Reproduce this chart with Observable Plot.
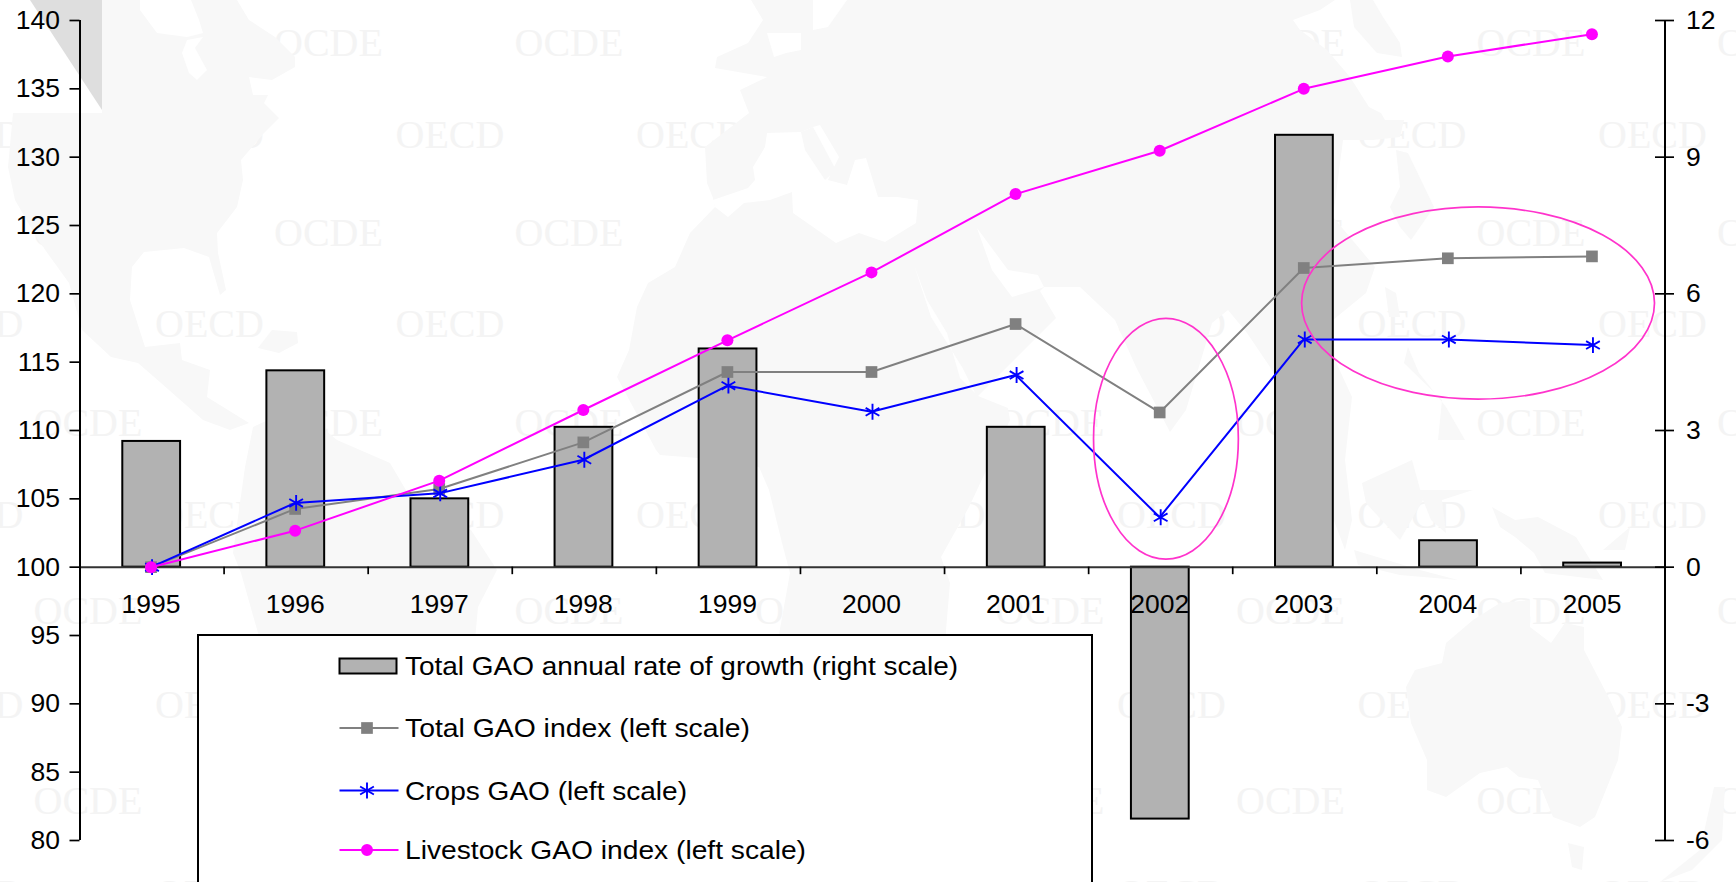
<!DOCTYPE html>
<html>
<head>
<meta charset="utf-8">
<script src="https://cdn.jsdelivr.net/npm/d3@7"></script>
<script src="https://cdn.jsdelivr.net/npm/@observablehq/plot@0.6"></script>
<style>
html,body{margin:0;padding:0;background:#fff;overflow:hidden}
#page{position:relative;width:1736px;height:882px;overflow:hidden;font-family:"Liberation Sans",Arial,sans-serif}
#bg,#chart,#legend{position:absolute}
#bg{left:0;top:0}
#chart{left:0;top:0}
#chart svg{display:block}
#legend{left:197px;top:634px;background:#fff}
</style>
</head>
<body>
<div id="page">
<svg id="bg" width="1736" height="882" viewBox="0 0 1736 882">
  <g id="watermarks" fill="#f4f4f4" font-family="Liberation Serif, serif" font-size="40" text-anchor="middle" dominant-baseline="central"></g>
  <g fill="#f8f8f8">
    <polygon points="102,0 140,0 140,10 157,33 187,37 203,33 199,20 191,0 237,0 249,20 275,37 295,57 295,67 272,80 249,77 253,95 268,95 264,103 279,118 264,133 241,160 243,180 237,207 217,233 218,253 226,290 220,295 209,257 184,248 144,252 132,267 130,300 145,347 180,343 182,360 210,370 207,397 249,423 230,430 203,420 161,383 138,363 111,357 82,330 69,283 38,240 15,200 8,167 13,113 102,113"/>
    <polygon points="258,348 272,330 297,332 298,343 279,353"/>
    <polygon points="253,427 268,420 325,430 337,440 390,463 410,497 471,530 497,570 478,607 475,640 260,640 241,573 233,553 245,467"/>
    <polygon points="751,0 763,20 748,43 717,57 715,68 738,72 767,77 740,90 749,113 705,147 707,183 713,198 715,207 690,233 675,267 648,283 637,307 629,350 617,377 656,450 660,455 698,458 759,467 769,490 782,543 790,573 778,640 946,640 946,630 950,583 941,557 969,507 1010,420 1008,408 978,396 1056,318 1040,291 1044,287 1080,287 1115,320 1136,367 1170,432 1186,410 1212,323 1228,310 1247,333 1270,367 1300,420 1330,510 1345,550 1352,520 1345,460 1352,397 1335,360 1333,320 1366,293 1375,267 1333,217 1343,140 1373,140 1400,137 1404,120 1385,120 1381,113 1369,107 1350,77 1327,50 1300,30 1293,20 1320,10 1335,0"/>
    <polygon points="1350,0 1373,0 1383,17 1400,43 1402,57 1377,53 1354,27"/>
    <polygon points="1396,150 1408,153 1434,207 1411,240 1400,227 1390,207 1400,187"/>
    <polygon points="1385,287 1396,293 1400,317 1389,317"/>
    <polygon points="1408,347 1419,373 1446,407 1465,440 1438,440 1442,400 1404,363"/>
    <polygon points="1362,483 1412,460 1423,500 1400,540 1366,503"/>
    <polygon points="1419,490 1473,490 1442,500 1446,533 1431,520"/>
    <polygon points="1492,507 1515,520 1538,517 1576,537 1603,580 1545,573 1534,553 1515,537 1500,527"/>
    <polygon points="1354,550 1420,570 1458,580 1400,575 1358,565"/>
    <polygon points="1603,550 1630,527 1625,550"/>
    <polygon points="1406,687 1415,670 1442,663 1446,643 1473,620 1500,603 1530,600 1530,627 1551,643 1565,623 1584,627 1584,650 1610,700 1622,727 1618,760 1595,817 1580,827 1553,817 1538,780 1519,777 1507,767 1480,773 1446,797 1427,790 1427,760 1411,723"/>
    <polygon points="1568,843 1584,847 1582,870 1572,867"/>
    <polygon points="1714,787 1725,787 1722,840 1692,870 1660,882 1700,850"/>
  </g>
  <g fill="#fff">
    <polygon points="187,40 182,53 189,73 197,80 207,70 195,48 203,37"/>
    <polygon points="44,247 44,263 67,310 57,283 33,260"/>
    <polygon points="813,0 847,0 828,27 813,30"/>
    <polygon points="767,33 801,33 801,50 786,53 774,57"/>
    <polygon points="713,200 748,188 755,180 753,167 765,147 767,133 801,132 813,127 820,125 839,157 836,163 828,180 847,185 855,160 866,158 878,197 897,197 918,200 916,223 885,242 859,233 836,243 793,213 792,192 770,200 744,203 728,217 715,207"/>
    <polygon points="914,265 931,317 962,367 975,393 960,378 947,333 927,300"/>
    <polygon points="977,228 1008,270 1038,275 1044,287 1036,290 1012,297 992,270"/>
    <rect x="0" y="0" width="102" height="112"/>
  </g>
  <polygon points="801,132 813,127 836,170 825,180 805,150" fill="#f8f8f8"/>
  <polygon points="30,0 102,0 102,110" fill="#dedede"/>
</svg>
<div id="chart"></div>
<svg id="legend" width="896" height="260"></svg>
</div>
<script>
const years = [1995, 1996, 1997, 1998, 1999, 2000, 2001, 2002, 2003, 2004, 2005];
const growthRate = [2.76, 4.31, 1.5, 3.07, 4.79, 0, 3.07, -5.53, 9.48, 0.58, 0.09];
const totalIndex = [100, 104.26, 105.72, 109.13, 114.28, 114.28, 117.79, 111.32, 121.89, 122.6, 122.74];
const cropsIndex = [100, 104.7, 105.4, 107.86, 113.28, 111.37, 114.06, 103.65, 116.66, 116.66, 116.25];
const livestockIndex = [100, 102.67, 106.33, 111.5, 116.6, 121.57, 127.3, 130.47, 135, 137.37, 139];
const leftTicks = [80, 85, 90, 95, 100, 105, 110, 115, 120, 125, 130, 135, 140];
const rightTicks = [-6, -3, 0, 3, 6, 9, 12];
const legendLabels = [
  "Total GAO annual rate of growth (right scale)",
  "Total GAO index (left scale)",
  "Crops GAO (left scale)",
  "Livestock GAO index (left scale)"
];
const legendLabelLengths = [553, 345, 282, 401];
const ellipseYears = [2002.04, 2004.206];
const ellipseIndex = [109.36, 119.29];
const ellipseYearRadius = [0.5025, 1.2246];
const ellipseIndexRadius = [8.81, 7.03];
const watermarkRows = [42, 134, 232, 323, 422, 514, 610, 704, 800, 893];

// second scale: right axis values expressed on the left axis
const toLeft = r => 100 + r * 10 / 3;
const FONT = '"Liberation Sans",Arial,sans-serif';
const GREY = "#808080", BLUE = "#0000ff", MAGENTA = "#ff00ff", BARFILL = "#b2b2b2", RING = "#ff33cc";
const boundaries = [1994.5, ...years.map(y => y + 0.5)];

// watermark grid behind the chart
const wm = d3.select("#watermarks");
watermarkRows.forEach((y, r) => {
  const ocde = r % 2 === 0;
  for (let k = 0; k < 8; k++) {
    wm.append("text").attr("x", (ocde ? 88 : -31) + 240.5 * k).attr("y", y).text(ocde ? "OCDE" : "OECD");
  }
});

const ellipses = (index, {x, y}) => {
  const g = d3.create("svg:g").attr("fill", "none").attr("stroke", RING).attr("stroke-width", 1.7);
  ellipseYears.forEach((yr, i) => {
    g.append("ellipse")
      .attr("cx", x(yr)).attr("cy", y(ellipseIndex[i]))
      .attr("rx", x(yr + ellipseYearRadius[i]) - x(yr))
      .attr("ry", y(ellipseIndex[i] - ellipseIndexRadius[i]) - y(ellipseIndex[i]));
  });
  return g.node();
};

const chart = Plot.plot({
  width: 1736, height: 882,
  marginLeft: 79.5, marginRight: 71.5, marginTop: 20, marginBottom: 42,
  x: {domain: [1994.5, 2005.5], axis: null},
  y: {domain: [80, 140], axis: null},
  style: {background: "transparent", fontFamily: FONT, color: "#000", overflow: "visible"},
  marks: [
    Plot.rect(years, {
      x1: (d) => d - 0.203, x2: (d) => d + 0.198,
      y1: () => 100, y2: (d, i) => toLeft(growthRate[i]),
      fill: BARFILL, stroke: "#000", strokeWidth: 2
    }),
    Plot.ruleY([100], {stroke: "#333", strokeWidth: 2}),
    Plot.ruleX(boundaries, {y1: 100, y2: 99.45, stroke: "#000", strokeWidth: 1.7}),
    Plot.ruleX([1994.5, 2005.5], {y1: 80, y2: 140, stroke: "#000", strokeWidth: 2}),
    Plot.ruleY(rightTicks.map(toLeft), {x1: 2005.434, x2: 2005.566, stroke: "#000", strokeWidth: 1.7}),
    Plot.axisY({anchor: "left", ticks: leftTicks, tickSize: 10, tickPadding: 10, fontSize: 26.5, strokeWidth: 1.7, label: null, stroke: "#000", fill: "#000"}),
    Plot.axisY({anchor: "right", ticks: rightTicks.map(toLeft), tickSize: 0, tickPadding: 21, fontSize: 26.5, label: null,
      tickFormat: d => String(Math.round((d - 100) * 0.3)), fill: "#000"}),
    Plot.line(totalIndex, {x: years, y: totalIndex, stroke: GREY, strokeWidth: 2, dx: -1}),
    Plot.dot(totalIndex, {x: years, y: totalIndex, symbol: "square", r: 6.6, fill: GREY, dx: -1}),
    Plot.line(cropsIndex, {x: years, y: cropsIndex, stroke: BLUE, strokeWidth: 2, dx: -1}),
    Plot.dot(cropsIndex, {x: years, y: cropsIndex, symbol: "asterisk", r: 7.5, stroke: BLUE, strokeWidth: 1.9}),
    Plot.line(livestockIndex, {x: years, y: livestockIndex, stroke: MAGENTA, strokeWidth: 2, dx: -1}),
    Plot.dot(livestockIndex, {x: years, y: livestockIndex, r: 6, fill: MAGENTA, dx: -1}),
    ellipses,
    Plot.text(years, {x: d => d, y: () => 100, dx: -1, dy: 37, text: d => String(d), fontSize: 26.5, fill: "#000"})
  ]
});
document.getElementById("chart").appendChild(chart);

// legend box, cut by the bottom of the picture as in the source
const lg = d3.select("#legend");
lg.append("rect").attr("x", 1).attr("y", 1).attr("width", 894).attr("height", 300).attr("fill", "#fff").attr("stroke", "#000").attr("stroke-width", 2);
const rows = [32, 94, 156.5, 216];
const swatchX0 = 142.5, swatchX1 = 201.5, markX = 170, textX = 208;
const entries = [
  {color: null, sym: null},
  {color: GREY, sym: d3.symbolSquare, size: 137, fill: GREY},
  {color: BLUE, sym: d3.symbolAsterisk, size: 178, stroke: BLUE},
  {color: MAGENTA, sym: d3.symbolCircle, size: 113, fill: MAGENTA}
];
legendLabels.forEach((label, i) => {
  const y = rows[i], e = entries[i];
  if (e.color === null) {
    lg.append("rect").attr("x", swatchX0).attr("y", y - 7.5).attr("width", 57).attr("height", 15)
      .attr("fill", BARFILL).attr("stroke", "#000").attr("stroke-width", 2);
  } else {
    lg.append("line").attr("x1", swatchX0).attr("x2", swatchX1).attr("y1", y).attr("y2", y)
      .attr("stroke", e.color).attr("stroke-width", 2);
    lg.append("path").attr("transform", `translate(${markX},${y})`)
      .attr("d", d3.symbol(e.sym, e.size)())
      .attr("fill", e.fill || "none").attr("stroke", e.stroke || "none").attr("stroke-width", 1.9);
  }
  lg.append("text").attr("x", textX).attr("y", y).attr("dominant-baseline", "central")
    .attr("font-family", FONT).attr("font-size", 26).attr("fill", "#000")
    .attr("textLength", legendLabelLengths[i]).attr("lengthAdjust", "spacingAndGlyphs").text(label);
});
</script>
</body>
</html>
